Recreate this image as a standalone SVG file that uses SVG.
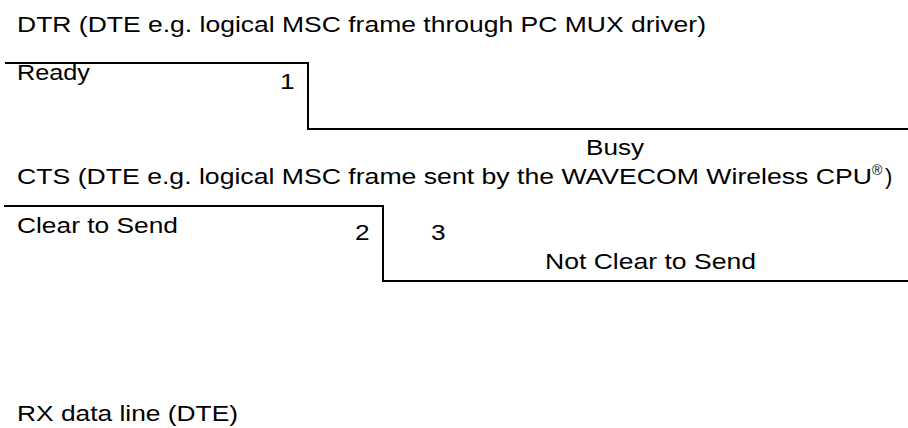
<svg xmlns="http://www.w3.org/2000/svg" width="908" height="428" viewBox="0 0 908 428">
  <style>
    text { font-family: "Liberation Sans", Arial, sans-serif; font-size: 22px; fill: #000; }
    .sig { fill: none; stroke: #000; stroke-width: 2; }
    .sup { font-size: 14px; }
  </style>
  <rect x="0" y="0" width="908" height="428" fill="#fff"/>
  <g id="dtr">
    <text x="17" y="32" textLength="689" lengthAdjust="spacingAndGlyphs">DTR (DTE e.g. logical MSC frame through PC MUX driver)</text>
    <text x="17" y="80" textLength="73" lengthAdjust="spacingAndGlyphs">Ready</text>
    <text x="280" y="89" textLength="14.6" lengthAdjust="spacingAndGlyphs">1</text>
    <text x="586" y="155" textLength="58" lengthAdjust="spacingAndGlyphs">Busy</text>
  </g>
  <g id="cts">
    <text x="17" y="184" textLength="855" lengthAdjust="spacingAndGlyphs">CTS (DTE e.g. logical MSC frame sent by the WAVECOM Wireless CPU</text>
    <text class="sup" x="872" y="175">®</text>
    <text x="885" y="184">)</text>
    <text x="17" y="233" textLength="161" lengthAdjust="spacingAndGlyphs">Clear to Send</text>
    <text x="355" y="240" textLength="14.6" lengthAdjust="spacingAndGlyphs">2</text>
    <text x="431" y="240" textLength="14.6" lengthAdjust="spacingAndGlyphs">3</text>
    <text x="545" y="269" textLength="211" lengthAdjust="spacingAndGlyphs">Not Clear to Send</text>
  </g>
  <g id="rx">
    <text x="17" y="421" textLength="221" lengthAdjust="spacingAndGlyphs">RX data line (DTE)</text>
  </g>
  <g id="connectors">
    <polyline class="sig" points="5,63 308,63 308,129 908,129"/>
    <polyline class="sig" points="4,206 383,206 383,281 908,281"/>
  </g>
</svg>
